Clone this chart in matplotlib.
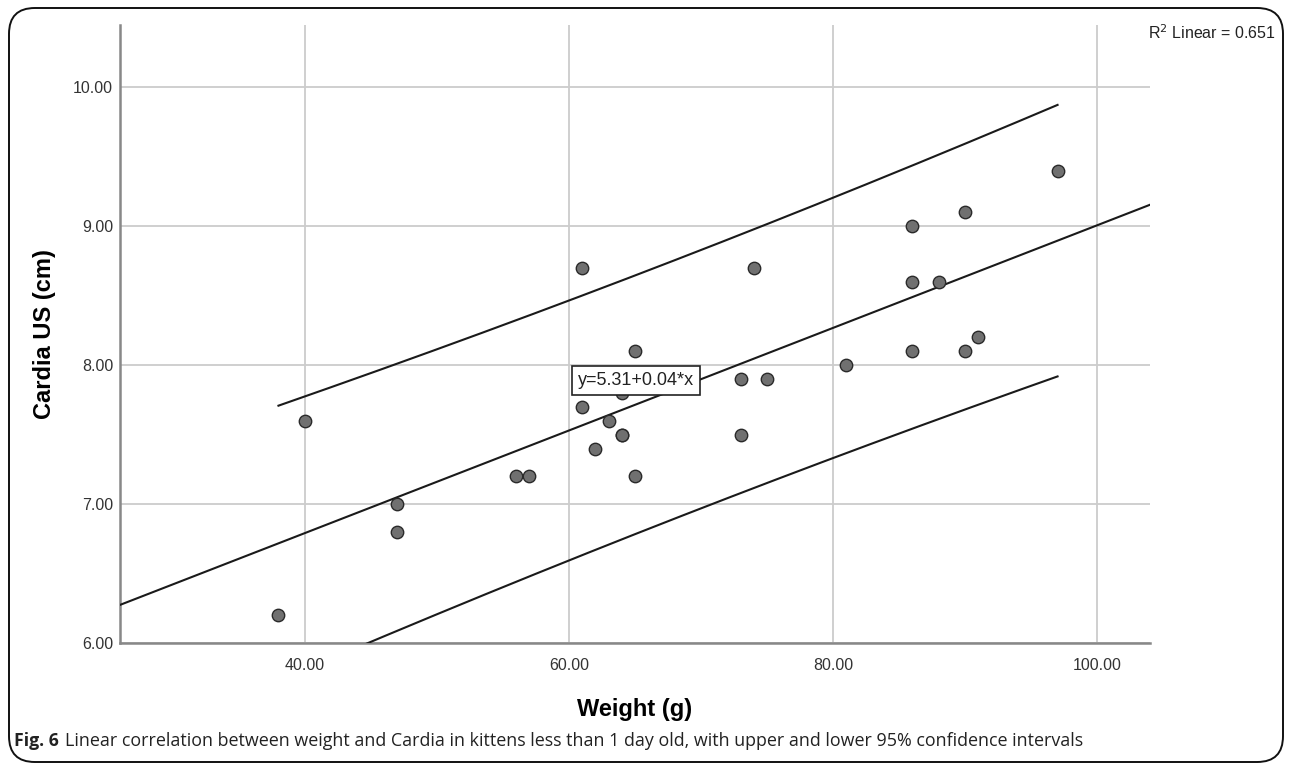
import numpy as np
import matplotlib
matplotlib.use("Agg")
import matplotlib.pyplot as plt
from matplotlib.patches import FancyBboxPatch

# ---- data ----
weight = [38, 40, 47, 47, 56, 57, 61, 61, 62, 63, 64, 64, 64, 65, 65,
          73, 73, 74, 75, 81, 86, 86, 86, 88, 90, 90, 91, 97]
cardia = [6.2, 7.6, 7.0, 6.8, 7.2, 7.2, 8.7, 7.7, 7.4, 7.6, 7.8, 7.5, 7.5, 8.1, 7.2,
          7.9, 7.5, 8.7, 7.9, 8.0, 9.0, 8.6, 8.1, 8.6, 9.1, 8.1, 8.2, 9.4]
x_ticks = [40, 60, 80, 100]
y_ticks = [6, 7, 8, 9, 10]
fit_label = "y=5.31+0.04*x"
r2_label = "R$^2$ Linear = 0.651"

x = np.array(weight, float)
y = np.array(cardia, float)
n = len(x)
b, a = np.polyfit(x, y, 1)
res = y - (a + b * x)
s = np.sqrt(np.sum(res ** 2) / (n - 2))
sxx = np.sum((x - x.mean()) ** 2)
t = 2.056  # t(0.975, df~26)

plt.rcParams['font.family'] = ['Liberation Sans', 'DejaVu Sans']
fig = plt.figure(figsize=(12.92, 7.64), dpi=100)
ax = fig.add_axes([120 / 1292, 1 - 643 / 764, 1030 / 1292, 618 / 764])

ax.set_xlim(26, 104)
ax.set_ylim(6, 10.45)
ax.set_xticks(x_ticks)
ax.set_yticks(y_ticks)
ax.set_xticklabels([f"{v:.2f}" for v in x_ticks])
ax.set_yticklabels([f"{v:.2f}" for v in y_ticks])
ax.grid(True, color='#cccccc', linewidth=1.3)
ax.set_axisbelow(True)
for sp in ['top', 'right']:
    ax.spines[sp].set_visible(False)
for sp in ['left', 'bottom']:
    ax.spines[sp].set_color('#888888')
    ax.spines[sp].set_linewidth(1.8)
ax.tick_params(length=0, labelsize=11.5, labelcolor='#333333')
ax.tick_params(axis='x', pad=11)
ax.tick_params(axis='y', pad=5)

# fit line
xl = np.linspace(26, 104, 200)
ax.plot(xl, a + b * xl, color='#1a1a1a', lw=1.5, zorder=3)
# prediction interval lines
xp = np.linspace(x.min(), x.max(), 200)
half = t * s * np.sqrt(1 + 1 / n + (xp - x.mean()) ** 2 / sxx)
ax.plot(xp, a + b * xp + half, color='#1a1a1a', lw=1.5, zorder=3)
ax.plot(xp, a + b * xp - half, color='#1a1a1a', lw=1.5, zorder=3)

ax.scatter(x, y, s=80, facecolor='#707070', edgecolor='#2a2a2a', linewidth=1.0, zorder=4)

ax.text(65.1, 7.89, fit_label, ha='center', va='center', fontsize=13, color='#222222',
        bbox=dict(boxstyle='square,pad=0.32', facecolor='white', edgecolor='#222222', linewidth=1.2),
        zorder=5)

ax.set_xlabel("Weight (g)", fontsize=17, fontweight='bold', labelpad=18)
ax.set_ylabel("Cardia US (cm)", fontsize=17, fontweight='bold', labelpad=12)

fig.text(1276 / 1292, 1 - 33 / 764, r2_label, ha='right', va='center', fontsize=11.5, color='#222222')

fig.text(14 / 1292, 1 - 741 / 764, "Fig. 6", ha='left', va='center', fontsize=12.7,
         fontweight='bold', family=['Open Sans', 'DejaVu Sans'], color='#222222')
fig.text(65 / 1292, 1 - 741 / 764,
         "Linear correlation between weight and Cardia in kittens less than 1 day old, with upper and lower 95% confidence intervals",
         ha='left', va='center', fontsize=12.9, family=['Open Sans', 'DejaVu Sans'], color='#222222')

border = FancyBboxPatch((9 / 1292, 1 - 762 / 764), 1274 / 1292, 754 / 764,
                        boxstyle='round,pad=0,rounding_size=0.02', transform=fig.transFigure,
                        facecolor='none', edgecolor='#111111', linewidth=1.4, mutation_aspect=1292 / 764)
fig.patches.append(border)

fig.savefig("out.png", dpi=100)
